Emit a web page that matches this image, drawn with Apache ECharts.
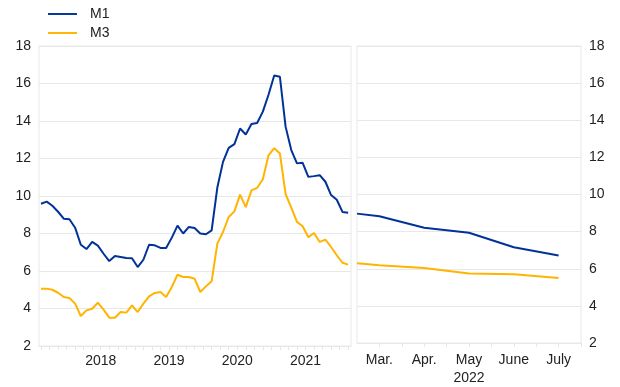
<!DOCTYPE html>
<html>
<head>
<meta charset="utf-8">
<script src="https://cdn.jsdelivr.net/npm/echarts@6/dist/echarts.min.js"></script>
<style>
html,body{margin:0;padding:0;background:#fff;}
#c{width:620px;height:387px;}
</style>
</head>
<body>
<div id="c"></div>
<script>
// Monthly history: Aug 2017 .. Feb 2022 (annual growth, %)
const m1Hist = [9.59,9.70,9.48,9.16,8.79,8.76,8.31,7.40,7.17,7.55,
  7.35,6.92,6.53,6.80,6.75,6.69,6.68,6.21,6.60,7.40,
  7.37,7.23,7.23,7.78,8.42,8.00,8.35,8.29,8.00,7.96,
  8.17,10.45,11.82,12.57,12.77,13.60,13.28,13.84,13.89,14.50,
  15.40,16.43,16.36,13.70,12.45,11.74,11.77,11.02,11.06,11.11,
  10.76,10.05,9.80,9.15,9.11];
const m3Hist = [5.06,5.06,5.00,4.84,4.61,4.56,4.26,3.60,3.90,3.99,
  4.31,3.94,3.51,3.51,3.81,3.78,4.17,3.81,4.26,4.65,
  4.83,4.88,4.61,5.15,5.80,5.68,5.68,5.59,4.88,5.18,
  5.45,7.46,8.08,8.88,9.18,10.07,9.41,10.30,10.43,10.89,
  12.17,12.55,12.27,10.10,9.38,8.62,8.39,7.80,8.03,7.55,
  7.67,7.28,6.84,6.44,6.34];
const yearLabels = ['2018','2019','2020','2021'];
const yearLabelPos = [10.5,22.5,34.5,46.5];

// 2022 panel
const monthLabels = ['Mar.','Apr.','May','June','July'];
const monthPos = [-0.5,0,1,2,3,4];
const m1Proj = [8.97,8.83,8.21,7.94,7.16,6.71];
const m3Proj = [6.29,6.19,6.04,5.75,5.70,5.50];

const BLUE = '#003299', YELLOW = '#FFB400';
const GRID_C = '#e8e8e8', TXT = '#222';
const FONT = 'Liberation Sans, Arial, sans-serif';

const histTicks = [];
for (let t = 0; t <= 54; t += 1.5) histTicks.push(t);
const projTicks = [];
for (let t = 0; t <= 4.5; t += 0.5) projTicks.push(t);

const chart = echarts.init(document.getElementById('c'), null, {renderer: 'canvas'});

const yCommon = {
  type: 'value', min: 2, max: 18, interval: 2,
  axisLine: {show: false}, axisTick: {show: false},
  splitLine: {show: true, lineStyle: {color: GRID_C, width: 1}},
  axisLabel: {color: TXT, fontSize: 14, fontFamily: FONT, margin: 8}
};

const LINE_ICON = 'path://M0,0H30V2H0Z';

chart.setOption({
  animation: false,
  backgroundColor: '#fff',
  legend: {
    orient: 'vertical', left: 48, top: 7, padding: 0,
    itemWidth: 29, itemHeight: 2.4, itemGap: 5,
    data: [{name: 'M1', icon: LINE_ICON}, {name: 'M3', icon: LINE_ICON}],
    textStyle: {color: TXT, fontSize: 14, lineHeight: 14, fontFamily: FONT, padding: [0, 0, 0, 8]}
  },
  grid: [
    {left: 39, right: 269, top: 46, bottom: 41, show: true, borderColor: GRID_C, borderWidth: 1},
    {left: 357, right: 39, top: 46, bottom: 41, show: true, borderColor: GRID_C, borderWidth: 1}
  ],
  xAxis: [
    {
      type: 'value', gridIndex: 0, min: -0.35, max: 54.5,
      splitLine: {show: false},
      axisLine: {show: true, lineStyle: {color: GRID_C}},
      axisTick: {show: true, customValues: histTicks, length: 4, lineStyle: {color: GRID_C}},
      axisLabel: {
        customValues: yearLabelPos, color: TXT, fontSize: 14, fontFamily: FONT, margin: 8,
        formatter: v => yearLabels[yearLabelPos.indexOf(v)] || ''
      }
    },
    {
      type: 'value', gridIndex: 1, min: -0.5, max: 4.5,
      splitLine: {show: false},
      axisLine: {show: true, lineStyle: {color: GRID_C}},
      axisTick: {show: true, customValues: projTicks, length: 4, lineStyle: {color: GRID_C}},
      axisLabel: {
        customValues: [0, 1, 2, 3, 4], color: TXT, fontSize: 14, fontFamily: FONT, margin: 8,
        lineHeight: 18,
        formatter: v => v === 2 ? monthLabels[v] + '\n2022' : (monthLabels[v] || '')
      }
    }
  ],
  yAxis: [
    Object.assign({gridIndex: 0, position: 'left'}, yCommon),
    Object.assign({gridIndex: 1, position: 'right'}, yCommon)
  ],
  series: [
    {name: 'M1', type: 'line', xAxisIndex: 0, yAxisIndex: 0, symbol: 'none',
      lineStyle: {color: BLUE, width: 2}, itemStyle: {color: BLUE},
      data: m1Hist.map((v, i) => [i, v])},
    {name: 'M3', type: 'line', xAxisIndex: 0, yAxisIndex: 0, symbol: 'none',
      lineStyle: {color: YELLOW, width: 2}, itemStyle: {color: YELLOW},
      data: m3Hist.map((v, i) => [i, v])},
    {name: 'M1', type: 'line', xAxisIndex: 1, yAxisIndex: 1, symbol: 'none',
      lineStyle: {color: BLUE, width: 2}, itemStyle: {color: BLUE},
      data: m1Proj.map((v, i) => [monthPos[i], v])},
    {name: 'M3', type: 'line', xAxisIndex: 1, yAxisIndex: 1, symbol: 'none',
      lineStyle: {color: YELLOW, width: 2}, itemStyle: {color: YELLOW},
      data: m3Proj.map((v, i) => [monthPos[i], v])}
  ]
});
</script>
</body>
</html>
